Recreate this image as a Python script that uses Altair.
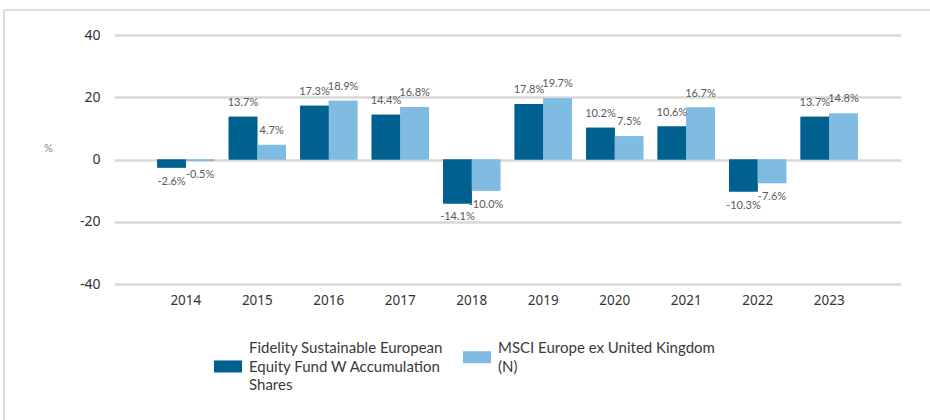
import json
import altair as alt
import pandas as pd

years = ["2014", "2015", "2016", "2017", "2018", "2019", "2020", "2021", "2022", "2023"]
fund_name = "Fidelity Sustainable European Equity Fund W Accumulation Shares"
index_name = "MSCI Europe ex United Kingdom (N)"
fund_values = [-2.6, 13.7, 17.3, 14.4, -14.1, 17.8, 10.2, 10.6, -10.3, 13.7]
index_values = [-0.5, 4.7, 18.9, 16.8, -10.0, 19.7, 7.5, 16.7, -7.6, 14.8]
fund_legend_lines = ["Fidelity Sustainable European", "Equity Fund W Accumulation", "Shares"]
index_legend_lines = ["MSCI Europe ex United Kingdom", "(N)"]
series_order = [fund_name, index_name]
colors = ["#00608F", "#80BBE2"]
y_ticks = [-40, -20, 0, 20, 40]

rows = []
for i, yr in enumerate(years):
    rows.append({"year": yr, "series": fund_name, "value": fund_values[i]})
    rows.append({"year": yr, "series": index_name, "value": index_values[i]})
df = pd.DataFrame(rows)

x_enc = alt.X(
    "year:N",
    sort=years,
    scale=alt.Scale(paddingInner=0.2, paddingOuter=0.605),
    axis=alt.Axis(
        title=None, labelAngle=0, domain=False, ticks=False, grid=False,
        labelFont="Noto Sans", labelFontSize=13.5, labelColor="#333333", labelPadding=9,
    ),
)
y_enc = alt.Y(
    "value:Q",
    scale=alt.Scale(domain=[-40, 40], nice=False),
    axis=alt.Axis(
        values=y_ticks, title="%", titleAngle=0, titleX=-66, titleY=113,
        titleAlign="center", titleBaseline="middle", titleFontSize=11,
        titleColor="#8a8a8a", titleFontWeight="normal", titleFont="Lato",
        labelFont="Noto Sans", labelFontSize=14, labelColor="#333333", labelPadding=14,
        labelExpr="'' + datum.value",
        domain=False, ticks=False, gridColor="#d9d9d9", gridWidth=2.5,
    ),
)
xoff = alt.XOffset("series:N", sort=series_order, scale=alt.Scale(paddingInner=0, paddingOuter=0))

common_legend = dict(
    title=None, orient="none", legendY=299, direction="vertical",
    symbolSize=784, symbolStrokeWidth=0, symbolOpacity=1,
    labelFont="Lato", labelFontSize=15, labelColor="#3a3a3a", labelOffset=7,
    labelLimit=400, padding=0,
)


def bar_layer(name, lines, legend_x, symbol_path):
    expr = "datum.label == %s ? %s : datum.label" % (json.dumps(name), json.dumps(lines))
    return alt.Chart(df).mark_bar().encode(
        x=x_enc,
        y=y_enc,
        xOffset=xoff,
        color=alt.Color(
            "series:N",
            sort=series_order,
            scale=alt.Scale(domain=series_order, range=colors),
            legend=alt.Legend(
                values=[name], legendX=legend_x, symbolType=symbol_path,
                labelExpr=expr, **common_legend
            ),
        ),
    )


bars_fund = bar_layer(fund_name, fund_legend_lines, 100, "M-1,0.89H1V1.75H-1Z")
bars_index = bar_layer(index_name, index_legend_lines, 349, "M-1,0.23H1V1.09H-1Z")

lab_base = alt.Chart(df).transform_calculate(
    label="(datum.value < 0 ? '-' : '') + format(abs(datum.value), '.1f') + '%'"
)
pos_labels = lab_base.transform_filter("datum.value >= 0").mark_text(
    dy=-14, baseline="middle", align="center", font="Lato", fontSize=11, color="#595959"
).encode(x=alt.X("year:N", sort=years), y="value:Q", xOffset=xoff, text="label:N")
neg_labels = lab_base.transform_filter("datum.value < 0").mark_text(
    dy=14, baseline="middle", align="center", font="Lato", fontSize=11, color="#595959"
).encode(x=alt.X("year:N", sort=years), y="value:Q", xOffset=xoff, text="label:N")

frame_data = alt.Data(values=[{}])
top_line = alt.Chart(frame_data).mark_rule(color="#dcdcdc", strokeWidth=2).encode(
    x=alt.value(-110), x2=alt.value(816), y=alt.value(-25)
)
left_line = alt.Chart(frame_data).mark_rule(color="#dcdcdc", strokeWidth=2).encode(
    x=alt.value(-110), y=alt.value(-25), y2=alt.value(385)
)

chart = alt.layer(
    bars_fund, bars_index, pos_labels, neg_labels, top_line, left_line
).resolve_scale(color="independent").properties(
    width=787,
    height=249,
    padding={"left": 114, "top": 35, "right": 29, "bottom": 136},
    autosize=alt.AutoSizeParams(type="none"),
    background="white",
).configure(
    view=alt.ViewConfig(stroke=None),
    style={"guide-label": {"lineHeight": 18.5}},
)

chart.save("out.html", embed_options={"renderer": "svg", "actions": False})
